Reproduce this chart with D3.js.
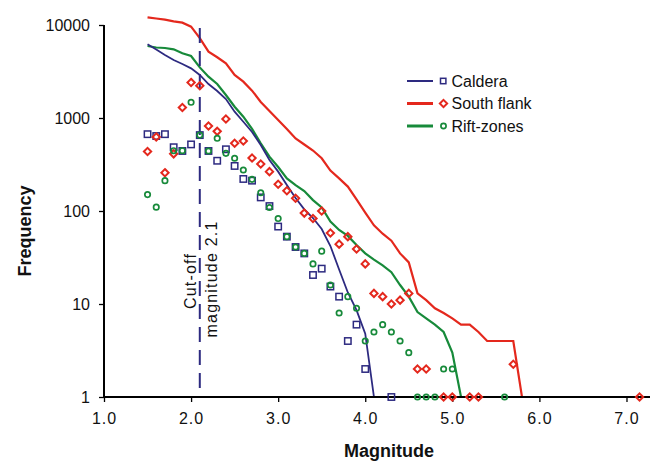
<!DOCTYPE html>
<html><head><meta charset="utf-8">
<script src="https://cdn.jsdelivr.net/npm/d3@7"></script>
<style>
html,body{margin:0;padding:0;background:#fff;}
svg{display:block;font-family:"Liberation Sans",Arial,Helvetica,sans-serif;}
</style></head>
<body><svg id="c" width="650" height="461"></svg>
<script>
// ---- data (magnitude, frequency) ----
const calderaLine = [[1.5,6200],[1.6,5450],[1.7,4760],[1.8,4200],[1.9,3810],[2.0,3420],[2.1,2900],[2.2,2320],[2.3,1950],[2.4,1600],[2.5,1170],[2.6,912],[2.7,707],[2.8,512],[2.9,354],[3.0,265],[3.1,190],[3.2,138],[3.3,104],[3.4,84],[3.5,64],[3.6,42],[3.7,23.5],[3.8,13.3],[3.9,8.6],[4.0,4.8],[4.1,1]];
const southLine = [[1.5,12100],[1.6,11740],[1.7,11400],[1.8,10960],[1.9,10590],[2.0,9590],[2.1,7240],[2.2,5170],[2.3,4500],[2.4,3870],[2.5,2900],[2.6,2460],[2.7,1970],[2.8,1486],[2.9,1190],[3.0,952],[3.1,762],[3.2,602],[3.3,519],[3.4,447],[3.5,369],[3.6,272],[3.7,224],[3.8,183],[3.9,133],[4.0,96],[4.1,70],[4.2,57],[4.3,48],[4.4,35],[4.5,28],[4.6,13],[4.7,11],[4.8,9],[4.9,8],[5.0,7],[5.1,6],[5.2,6],[5.3,5],[5.4,4],[5.5,4],[5.6,4],[5.7,4],[5.8,1],[7.15,1]];
const riftLine = [[1.5,5950],[1.6,5730],[1.7,5660],[1.8,5480],[1.9,4960],[2.0,4640],[2.1,3500],[2.2,2780],[2.3,2320],[2.4,1767],[2.5,1323],[2.6,1033],[2.7,762],[2.8,535],[2.9,384],[3.0,297],[3.1,224],[3.2,190],[3.3,164],[3.4,131],[3.5,109],[3.6,77],[3.7,62.5],[3.8,54],[3.9,43],[4.0,35],[4.1,30],[4.2,26],[4.3,22],[4.4,16],[4.5,12],[4.6,8.2],[4.7,7],[4.8,6],[4.9,5],[5.0,3],[5.1,1],[5.6,1]];

const calderaPts = [[1.5,670],[1.6,640],[1.7,670],[1.8,485],[1.9,442],[2.0,520],[2.1,655],[2.2,442],[2.3,347],[2.4,461],[2.5,305],[2.6,221],[2.7,212],[2.8,140],[2.9,113],[3.0,68],[3.1,53],[3.2,41],[3.3,35],[3.4,20.5],[3.5,24],[3.6,15.4],[3.7,12],[3.8,4],[3.9,6],[4.0,2],[4.3,1]];
const southPts = [[1.5,436],[1.6,625],[1.7,258],[1.8,412],[1.9,1297],[2.0,2410],[2.1,2225],[2.2,820],[2.3,719],[2.4,975],[2.5,535],[2.6,566],[2.7,371],[2.8,320],[2.9,265],[3.0,194],[3.1,165],[3.2,137],[3.3,95],[3.4,83],[3.5,100],[3.6,58],[3.7,44],[3.8,53],[3.9,39],[4.0,27],[4.1,13],[4.2,12],[4.3,10],[4.4,11],[4.5,13],[4.6,2],[4.7,2],[4.9,1],[5.0,1],[5.2,1],[5.3,1],[5.7,2.25],[7.15,1]];
const riftPts = [[1.5,150],[1.6,110],[1.7,212],[1.8,445],[1.9,445],[2.0,1475],[2.1,655],[2.2,442],[2.3,605],[2.4,417],[2.5,369],[2.6,276],[2.7,219],[2.8,157],[2.9,109],[3.0,83],[3.1,53],[3.2,41],[3.3,35],[3.4,27],[3.5,37],[3.6,16],[3.7,8],[3.8,12],[3.9,9],[4.0,4],[4.1,5],[4.2,6],[4.3,5],[4.4,4],[4.5,3],[4.6,1],[4.7,1],[4.8,1],[4.9,2],[5.0,2],[5.6,1]];

const xTicks = [1.0,2.0,3.0,4.0,5.0,6.0,7.0];
const yTicks = [1,10,100,1000,10000];
const legendNames = ["Caldera","South flank","Rift-zones"];
const cutoffMag = 2.1;
const cutoffLabels = ["Cut-off","magnitude 2.1"];

// ---- drawing ----
const BLUE="#2d2a80", RED="#e4281d", GREEN="#178a3a";
const svg = d3.select("#c");
const x = d3.scaleLinear().domain([1,7.27]).range([104,650]);
const y = d3.scaleLog().domain([1,10000]).range([397,25]);

// lines
const line = d3.line().x(d=>x(d[0])).y(d=>y(d[1]));
svg.append("path").datum(southLine).attr("d",line).attr("fill","none").attr("stroke",RED).attr("stroke-width",2.2);
svg.append("path").datum(riftLine).attr("d",line).attr("fill","none").attr("stroke",GREEN).attr("stroke-width",2.2);
svg.append("path").datum(calderaLine).attr("d",line).attr("fill","none").attr("stroke",BLUE).attr("stroke-width",1.8);

// cutoff dashed line
svg.append("line").attr("x1",x(cutoffMag)).attr("x2",x(cutoffMag))
  .attr("y1",y(10000)+3).attr("y2",y(1)-3)
  .attr("stroke",BLUE).attr("stroke-width",2).attr("stroke-dasharray","15,8");

// axes
const yAxis = d3.axisLeft(y).tickValues(yTicks).tickFormat(d3.format("d")).tickSize(5).tickPadding(9);
const gy = svg.append("g").attr("transform",`translate(${x(1)},0)`).call(yAxis);
const xAxis = d3.axisBottom(x).tickValues(xTicks).tickFormat(d3.format(".1f")).tickSize(5).tickPadding(11);
const gx = svg.append("g").attr("transform",`translate(0,${y(1)})`).call(xAxis);
[gx,gy].forEach(g=>{
  g.select(".domain").attr("stroke","#000").attr("stroke-width",2);
  g.selectAll(".tick line").attr("stroke","#000").attr("stroke-width",1.3);
  g.selectAll(".tick text").attr("fill","#111").style("font-size","16px").style("font-family","'Liberation Sans',Arial,sans-serif");
});
gx.selectAll(".tick text").style("letter-spacing","1px");
gy.select(".domain").attr("d",`M0,${y(10000)}V${y(1)}`);
gx.select(".domain").attr("d",`M${x(1)},0H650`);

// markers
svg.append("g").selectAll("rect").data(calderaPts).join("rect")
  .attr("x",d=>x(d[0])-3.2).attr("y",d=>y(d[1])-3.2).attr("width",6.4).attr("height",6.4)
  .attr("fill","none").attr("stroke",BLUE).attr("stroke-width",1.5);
const diamond = d3.symbol().type(d3.symbolDiamond2).size(34);
svg.append("g").selectAll("path").data(southPts).join("path")
  .attr("transform",d=>`translate(${x(d[0])},${y(d[1])})`).attr("d",diamond)
  .attr("fill","none").attr("stroke",RED).attr("stroke-width",2);
svg.append("g").selectAll("circle").data(riftPts).join("circle")
  .attr("cx",d=>x(d[0])).attr("cy",d=>y(d[1])).attr("r",2.7)
  .attr("fill","none").attr("stroke",GREEN).attr("stroke-width",1.7);

// cutoff labels
const cx = x(cutoffMag);
svg.append("text").attr("transform",`translate(${cx-4},281) rotate(-90)`).attr("text-anchor","middle")
  .style("font-size","16px").style("letter-spacing","1.2px").attr("fill","#111").text(cutoffLabels[0]);
svg.append("text").attr("transform",`translate(${cx+17},279) rotate(-90)`).attr("text-anchor","middle")
  .style("font-size","16px").style("letter-spacing","1.2px").attr("fill","#111").text(cutoffLabels[1]);

// axis titles
svg.append("text").attr("x",389).attr("y",457).attr("text-anchor","middle")
  .style("font-size","18px").style("font-weight","bold").attr("fill","#111").text("Magnitude");
svg.append("text").attr("transform","translate(31,231) rotate(-90)").attr("text-anchor","middle")
  .style("font-size","18px").style("font-weight","bold").attr("fill","#111").text("Frequency");

// legend
const colors=[BLUE,RED,GREEN], widths=[2,3,3];
const lg = svg.append("g");
legendNames.forEach((n,i)=>{
  const yy = 81 + i*22.5;
  lg.append("line").attr("x1",407).attr("x2",433).attr("y1",yy).attr("y2",yy).attr("stroke",colors[i]).attr("stroke-width",widths[i]);
  if(i===0) lg.append("rect").attr("x",440.5).attr("y",yy-2.7).attr("width",5.4).attr("height",5.4).attr("fill","none").attr("stroke",BLUE).attr("stroke-width",1.5);
  if(i===1) lg.append("path").attr("transform",`translate(443.5,${yy})`).attr("d",diamond).attr("fill","none").attr("stroke",RED).attr("stroke-width",2);
  if(i===2) lg.append("circle").attr("cx",443.5).attr("cy",yy).attr("r",2.6).attr("fill","none").attr("stroke",GREEN).attr("stroke-width",1.7);
  lg.append("text").attr("x",451.5).attr("y",yy+5.8).style("font-size","16px").attr("fill","#111").text(n);
});
</script></body></html>
